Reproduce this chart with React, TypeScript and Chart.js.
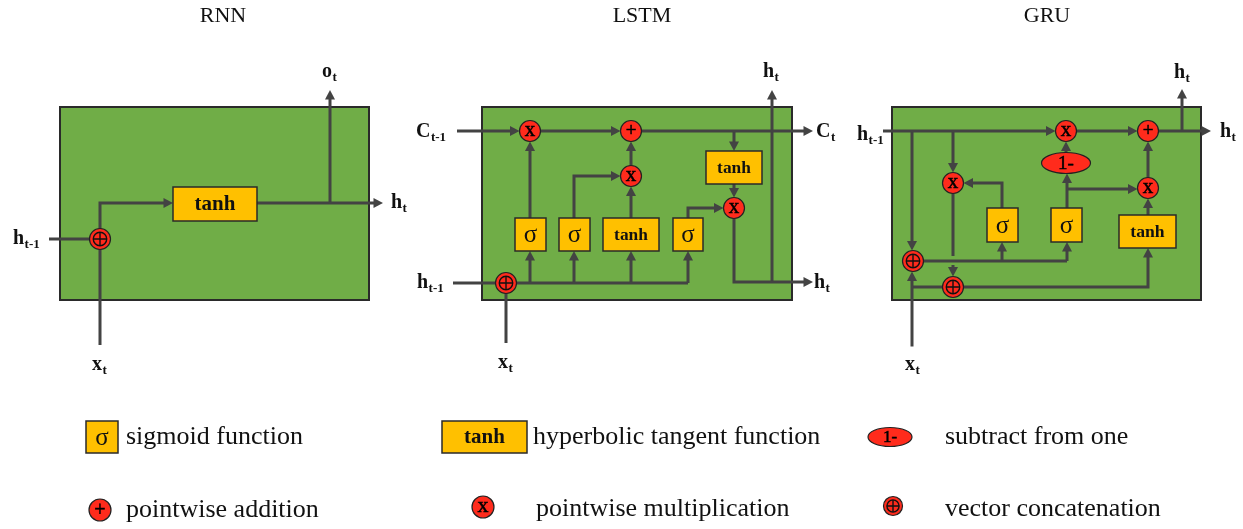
import React, { useEffect, useRef } from 'react';
import { Chart, registerables } from 'chart.js';
Chart.register(...registerables);

const W = 1243;
const H = 529;
const SERIF = '"Liberation Serif", "DejaVu Serif", serif';
const LINE = '#434343';
const GREEN = '#70AD47';
const YELLOW = '#FFC000';
const RED = '#FF2B1C';
const DARK = '#222222';

// panel titles: text, centre x, baseline y
const titles = [
  { text: 'RNN', x: 223, y: 22 },
  { text: 'LSTM', x: 642, y: 22 },
  { text: 'GRU', x: 1047, y: 22 },
];

// green cell panels: x0, y0, x1, y1
const panels = [
  [60, 107, 369, 300],
  [482, 107, 792, 300],
  [892, 107, 1201, 300],
];

// activation boxes: x0, y0, x1, y1, kind
const boxes = [
  { x0: 173, y0: 187, x1: 257, y1: 221, kind: 'tanh' },
  { x0: 515, y0: 218, x1: 546, y1: 251, kind: 'sigma' },
  { x0: 559, y0: 218, x1: 590, y1: 251, kind: 'sigma' },
  { x0: 603, y0: 218, x1: 659, y1: 251, kind: 'tanh' },
  { x0: 673, y0: 218, x1: 703, y1: 251, kind: 'sigma' },
  { x0: 706, y0: 151, x1: 762, y1: 184, kind: 'tanh' },
  { x0: 987, y0: 208, x1: 1018, y1: 242, kind: 'sigma' },
  { x0: 1051, y0: 208, x1: 1082, y1: 242, kind: 'sigma' },
  { x0: 1119, y0: 215, x1: 1176, y1: 248, kind: 'tanh' },
  { x0: 86, y0: 421, x1: 118, y1: 453, kind: 'sigma' },
  { x0: 442, y0: 421, x1: 527, y1: 453, kind: 'tanh' },
];

// pointwise operation nodes: x, y, radius, symbol
const nodes = [
  { x: 100, y: 239, r: 10.5, sym: 'cat' },
  { x: 530, y: 131, r: 10.5, sym: 'x' },
  { x: 631, y: 131, r: 10.5, sym: '+' },
  { x: 631, y: 176, r: 10.5, sym: 'x' },
  { x: 734, y: 208, r: 10.5, sym: 'x' },
  { x: 506, y: 283, r: 10.5, sym: 'cat' },
  { x: 1066, y: 131, r: 10.5, sym: 'x' },
  { x: 1148, y: 131, r: 10.5, sym: '+' },
  { x: 953, y: 183, r: 10.5, sym: 'x' },
  { x: 1148, y: 188, r: 10.5, sym: 'x' },
  { x: 913, y: 261, r: 10.5, sym: 'cat' },
  { x: 953, y: 287, r: 10.5, sym: 'cat' },
  { x: 100, y: 510, r: 11, sym: '+' },
  { x: 483, y: 507, r: 11, sym: 'x' },
  { x: 893, y: 506, r: 9.5, sym: 'cat' },
];

// "1-" ellipses: x, y, rx, ry
const ellipses = [
  { x: 1066, y: 163, rx: 24.5, ry: 10.5 },
  { x: 890, y: 437, rx: 22, ry: 9.5 },
];

// wires: polyline points, arrow at end?
const wires: { pts: number[][]; arrow: boolean }[] = [
  // RNN
  { pts: [[49, 239], [100, 239]], arrow: false },
  { pts: [[100, 239], [100, 345]], arrow: false },
  { pts: [[100, 239], [100, 203], [173, 203]], arrow: true },
  { pts: [[257, 203], [383, 203]], arrow: true },
  { pts: [[330, 203], [330, 90]], arrow: true },
  // LSTM
  { pts: [[457, 131], [519.5, 131]], arrow: true },
  { pts: [[540.5, 131], [620.5, 131]], arrow: true },
  { pts: [[641.5, 131], [813, 131]], arrow: true },
  { pts: [[734, 131], [734, 151]], arrow: true },
  { pts: [[734, 184], [734, 197.5]], arrow: true },
  { pts: [[453, 283], [506, 283]], arrow: false },
  { pts: [[506, 283], [506, 343]], arrow: false },
  { pts: [[506, 283], [688, 283]], arrow: false },
  { pts: [[530, 283], [530, 251]], arrow: true },
  { pts: [[574, 283], [574, 251]], arrow: true },
  { pts: [[631, 283], [631, 251]], arrow: true },
  { pts: [[688, 283], [688, 251]], arrow: true },
  { pts: [[530, 218], [530, 141.5]], arrow: true },
  { pts: [[574, 218], [574, 176], [620.5, 176]], arrow: true },
  { pts: [[631, 218], [631, 186.5]], arrow: true },
  { pts: [[631, 165.5], [631, 141.5]], arrow: true },
  { pts: [[688, 218], [688, 208], [723.5, 208]], arrow: true },
  { pts: [[734, 218.5], [734, 282], [813, 282]], arrow: true },
  { pts: [[772, 282], [772, 90]], arrow: true },
  // GRU
  { pts: [[883, 131], [1055.5, 131]], arrow: true },
  { pts: [[1076.5, 131], [1137.5, 131]], arrow: true },
  { pts: [[1158.5, 131], [1211, 131]], arrow: true },
  { pts: [[1182, 131], [1182, 89]], arrow: true },
  { pts: [[912, 131], [912, 250.5]], arrow: true },
  { pts: [[953, 131], [953, 172.5]], arrow: true },
  { pts: [[953, 193.5], [953, 256]], arrow: false },
  { pts: [[953, 265], [953, 276.5]], arrow: true },
  { pts: [[912, 346.5], [912, 271.5]], arrow: true },
  { pts: [[912, 261], [1067, 261]], arrow: false },
  { pts: [[1002, 261], [1002, 242]], arrow: true },
  { pts: [[1067, 261], [1067, 242]], arrow: true },
  { pts: [[1002, 208], [1002, 183], [963.5, 183]], arrow: true },
  { pts: [[1067, 208], [1067, 173.5]], arrow: true },
  { pts: [[1067, 189], [1137.5, 189]], arrow: true },
  { pts: [[1066, 152.5], [1066, 141.5]], arrow: true },
  { pts: [[1148, 215], [1148, 198.5]], arrow: true },
  { pts: [[1148, 177.5], [1148, 141.5]], arrow: true },
  { pts: [[912, 287], [1148, 287], [1148, 248]], arrow: true },
];

// signal labels: main, subscript, left x, baseline y
const labels = [
  { main: 'h', sub: 't-1', x: 13, y: 244 },
  { main: 'x', sub: 't', x: 92, y: 370 },
  { main: 'o', sub: 't', x: 322, y: 77 },
  { main: 'h', sub: 't', x: 391, y: 208 },
  { main: 'C', sub: 't-1', x: 416, y: 137 },
  { main: 'h', sub: 't-1', x: 417, y: 288 },
  { main: 'C', sub: 't', x: 816, y: 137 },
  { main: 'h', sub: 't', x: 814, y: 288 },
  { main: 'h', sub: 't', x: 763, y: 77 },
  { main: 'x', sub: 't', x: 498, y: 368 },
  { main: 'h', sub: 't-1', x: 857, y: 140 },
  { main: 'h', sub: 't', x: 1220, y: 137 },
  { main: 'h', sub: 't', x: 1174, y: 78 },
  { main: 'x', sub: 't', x: 905, y: 370 },
];

// legend descriptions: text, left x, centre y
const legendTexts = [
  { text: 'sigmoid function', x: 126, y: 437 },
  { text: 'hyperbolic tangent function', x: 533, y: 437 },
  { text: 'subtract from one', x: 945, y: 437 },
  { text: 'pointwise addition', x: 126, y: 510 },
  { text: 'pointwise multiplication', x: 536, y: 509 },
  { text: 'vector concatenation', x: 945, y: 509 },
];

const ARROW_LEN = 9.5;
const ARROW_HALF = 5;

function trimmed(pts: number[][], arrow: boolean) {
  const out = pts.map((p) => ({ x: p[0], y: p[1] }));
  if (arrow && out.length > 1) {
    const a = out[out.length - 2];
    const b = out[out.length - 1];
    const d = Math.hypot(b.x - a.x, b.y - a.y) || 1;
    const k = Math.min(ARROW_LEN - 2, d) / d;
    out[out.length - 1] = { x: b.x - (b.x - a.x) * k, y: b.y - (b.y - a.y) * k };
  }
  return out;
}

const diagramPlugin = {
  id: 'diagram',
  beforeDatasetsDraw(chart: any) {
    const ctx = chart.ctx as CanvasRenderingContext2D;
    const X = (v: number) => chart.scales.x.getPixelForValue(v);
    const Y = (v: number) => chart.scales.y.getPixelForValue(v);
    ctx.save();
    ctx.fillStyle = '#ffffff';
    ctx.fillRect(0, 0, chart.width, chart.height);
    for (const p of panels) {
      const x0 = X(p[0]), y0 = Y(p[1]), x1 = X(p[2]), y1 = Y(p[3]);
      ctx.fillStyle = GREEN;
      ctx.fillRect(x0, y0, x1 - x0, y1 - y0);
      ctx.strokeStyle = '#2a2a2a';
      ctx.lineWidth = 2;
      ctx.strokeRect(x0, y0, x1 - x0, y1 - y0);
    }
    ctx.restore();
  },
  afterDatasetsDraw(chart: any) {
    const ctx = chart.ctx as CanvasRenderingContext2D;
    const X = (v: number) => chart.scales.x.getPixelForValue(v);
    const Y = (v: number) => chart.scales.y.getPixelForValue(v);
    ctx.save();
    // arrowheads
    ctx.fillStyle = LINE;
    for (const w of wires) {
      if (!w.arrow) continue;
      const a = w.pts[w.pts.length - 2];
      const b = w.pts[w.pts.length - 1];
      const ax = X(a[0]), ay = Y(a[1]), bx = X(b[0]), by = Y(b[1]);
      const d = Math.hypot(bx - ax, by - ay) || 1;
      const ux = (bx - ax) / d, uy = (by - ay) / d;
      const px = -uy, py = ux;
      ctx.beginPath();
      ctx.moveTo(bx, by);
      ctx.lineTo(bx - ux * ARROW_LEN + px * ARROW_HALF, by - uy * ARROW_LEN + py * ARROW_HALF);
      ctx.lineTo(bx - ux * ARROW_LEN - px * ARROW_HALF, by - uy * ARROW_LEN - py * ARROW_HALF);
      ctx.closePath();
      ctx.fill();
    }
    // boxes
    for (const b of boxes) {
      const x0 = X(b.x0), y0 = Y(b.y0), x1 = X(b.x1), y1 = Y(b.y1);
      ctx.fillStyle = YELLOW;
      ctx.fillRect(x0, y0, x1 - x0, y1 - y0);
      ctx.strokeStyle = '#2a2a2a';
      ctx.lineWidth = 1.5;
      ctx.strokeRect(x0, y0, x1 - x0, y1 - y0);
      ctx.fillStyle = '#111';
      ctx.textAlign = 'center';
      ctx.textBaseline = 'middle';
      const cx = (x0 + x1) / 2, cy = (y0 + y1) / 2;
      if (b.kind === 'tanh') {
        const fs = Math.min(21, (x1 - x0) * 0.31);
        ctx.font = `bold ${fs}px ${SERIF}`;
        ctx.fillText('tanh', cx, cy + 1);
      } else {
        ctx.font = `25px ${SERIF}`;
        ctx.fillText('σ', cx, cy + 1);
      }
    }
    // ellipses
    for (const e of ellipses) {
      ctx.beginPath();
      ctx.ellipse(X(e.x), Y(e.y), e.rx, e.ry, 0, 0, Math.PI * 2);
      ctx.fillStyle = RED;
      ctx.fill();
      ctx.strokeStyle = DARK;
      ctx.lineWidth = 1.2;
      ctx.stroke();
      ctx.fillStyle = '#000';
      ctx.strokeStyle = '#000';
      ctx.lineWidth = 0.5;
      ctx.font = `${Math.round(e.ry * 1.8)}px ${SERIF}`;
      ctx.textAlign = 'center';
      ctx.textBaseline = 'middle';
      ctx.fillText('1-', X(e.x), Y(e.y) + 1);
      ctx.strokeText('1-', X(e.x), Y(e.y) + 1);
    }
    // node symbols
    for (const n of nodes) {
      const cx = X(n.x), cy = Y(n.y);
      ctx.fillStyle = '#000';
      ctx.strokeStyle = '#000';
      ctx.textAlign = 'center';
      ctx.textBaseline = 'middle';
      if (n.sym === 'x') {
        ctx.font = `${Math.round(n.r * 2)}px ${SERIF}`;
        ctx.lineWidth = 0.5;
        ctx.fillText('x', cx, cy - 1);
        ctx.strokeText('x', cx, cy - 1);
      } else if (n.sym === '+') {
        ctx.font = `${Math.round(n.r * 1.8)}px ${SERIF}`;
        ctx.lineWidth = 0.5;
        ctx.fillText('+', cx, cy + 0.5);
        ctx.strokeText('+', cx, cy + 0.5);
      } else {
        const ir = n.r * 0.64;
        ctx.strokeStyle = '#111';
        ctx.lineWidth = 1.4;
        ctx.beginPath();
        ctx.arc(cx, cy, ir, 0, Math.PI * 2);
        ctx.stroke();
        ctx.beginPath();
        ctx.moveTo(cx - ir, cy);
        ctx.lineTo(cx + ir, cy);
        ctx.moveTo(cx, cy - ir);
        ctx.lineTo(cx, cy + ir);
        ctx.stroke();
      }
    }
    // signal labels
    ctx.fillStyle = '#111';
    ctx.textAlign = 'left';
    ctx.textBaseline = 'alphabetic';
    for (const l of labels) {
      ctx.font = `bold 20px ${SERIF}`;
      const x = X(l.x), y = Y(l.y);
      ctx.fillText(l.main, x, y);
      const w = ctx.measureText(l.main).width;
      ctx.font = `bold 13px ${SERIF}`;
      ctx.fillText(l.sub, x + w + 0.5, y + 4);
    }
    // titles
    ctx.font = `22px ${SERIF}`;
    ctx.textAlign = 'center';
    for (const t of titles) ctx.fillText(t.text, X(t.x), Y(t.y));
    // legend texts
    ctx.font = `26px ${SERIF}`;
    ctx.textAlign = 'left';
    ctx.textBaseline = 'middle';
    for (const t of legendTexts) ctx.fillText(t.text, X(t.x), Y(t.y));
    ctx.restore();
  },
};

export default function App() {
  const ref = useRef<HTMLCanvasElement>(null);
  useEffect(() => {
    if (!ref.current) return;
    const wireSets = wires.map((w) => ({
      type: 'scatter' as const,
      data: trimmed(w.pts, w.arrow),
      showLine: true,
      borderColor: LINE,
      borderWidth: 3,
      borderJoinStyle: 'miter' as const,
      borderCapStyle: 'butt' as const,
      pointRadius: 0,
      pointHoverRadius: 0,
      tension: 0,
      fill: false,
      order: 2,
    }));
    const nodeSet = {
      type: 'scatter' as const,
      data: nodes.map((n) => ({ x: n.x, y: n.y })),
      showLine: false,
      pointStyle: 'circle' as const,
      pointRadius: nodes.map((n) => n.r),
      pointHoverRadius: nodes.map((n) => n.r),
      pointBackgroundColor: RED,
      pointBorderColor: DARK,
      pointBorderWidth: 1.2,
      order: 1,
    };
    const chart = new Chart(ref.current, {
      type: 'scatter',
      data: { datasets: [nodeSet as any, ...(wireSets as any[])] },
      options: {
        animation: false,
        responsive: true,
        maintainAspectRatio: false,
        devicePixelRatio: 1,
        events: [],
        layout: { padding: 0, autoPadding: false },
        scales: {
          x: { type: 'linear', min: 0, max: W, display: false },
          y: { type: 'linear', min: 0, max: H, reverse: true, display: false },
        },
        plugins: { legend: { display: false }, tooltip: { enabled: false } },
      },
      plugins: [diagramPlugin],
    });
    return () => chart.destroy();
  }, []);
  return (
    <div style={{ position: 'fixed', left: 0, top: 0, width: W, height: H, background: '#fff' }}>
      <canvas ref={ref} />
    </div>
  );
}
